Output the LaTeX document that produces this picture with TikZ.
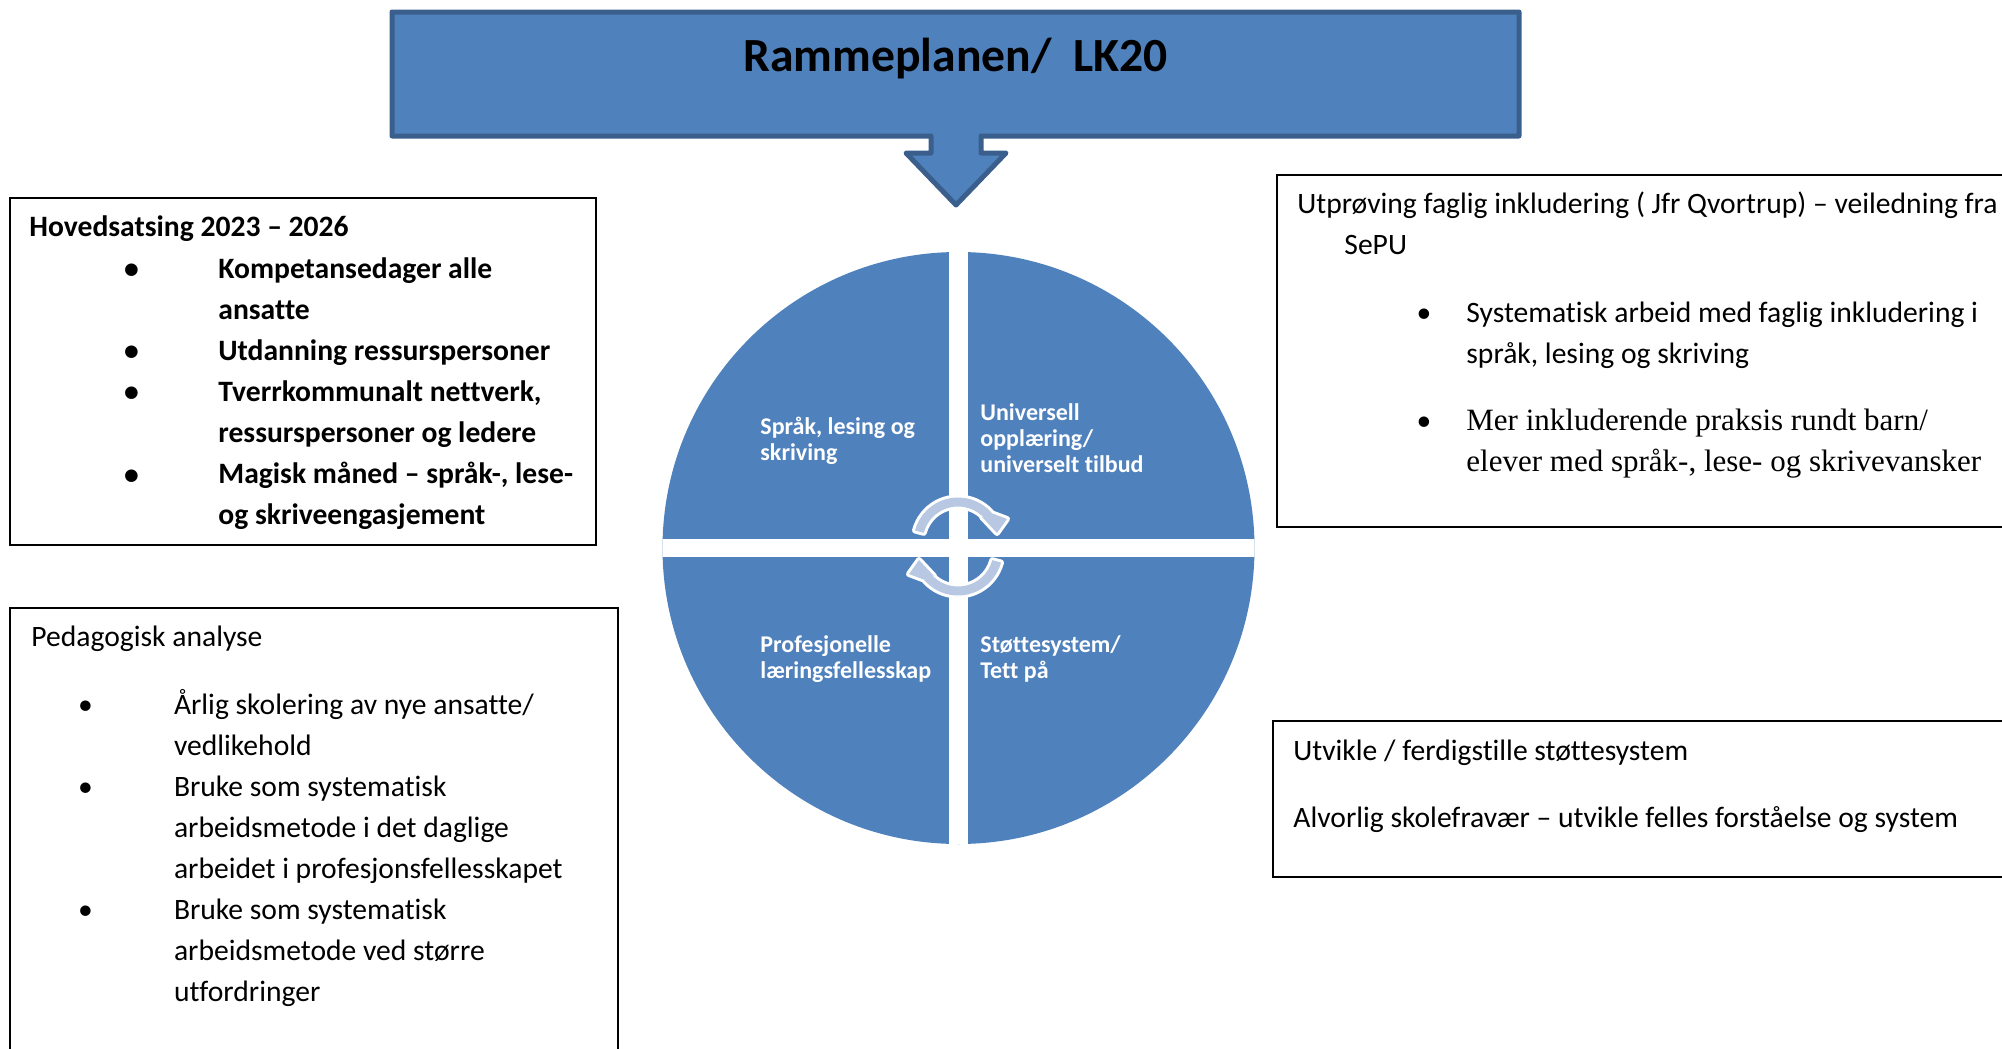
\documentclass[tikz,border=0pt]{standalone}
\usepackage{fontspec}
\setmainfont{Carlito}[Ligatures=NoCommon]
\newfontfamily\cambriafont{Liberation Serif}
\usepackage{tikz}
\usetikzlibrary{calc}
\definecolor{planblue}{HTML}{4F81BD}
\definecolor{planedge}{HTML}{3A5F8C}
\definecolor{cyclelight}{HTML}{B8C8E2}
\tikzset{
  boxtext/.style={anchor=base west, inner sep=0pt, align=left, font=\fontsize{14.8}{20.5}\selectfont},
  boldtext/.style={boxtext, font=\fontsize{14.8}{20.5}\selectfont\bfseries},
  seriftext/.style={boxtext, font=\fontsize{15.5}{20.5}\selectfont\cambriafont},
  bulletmark/.style={anchor=base, inner sep=0pt, font=\fontsize{14.8}{20.5}\selectfont},
  quadtext/.style={anchor=base west, inner sep=0pt, align=left, text=white, font=\fontsize{12}{13}\selectfont\bfseries},
  framebox/.style={draw=black, line width=1pt},
  cyclearrow/.style={fill=cyclelight, preaction={draw=white, line width=3pt, line join=round}}
}
\begin{document}
\begin{tikzpicture}[x=0.5pt, y=-0.5pt]
\useasboundingbox (0,0) rectangle (2002,1049);
\clip (0,0) rectangle (2002,1049);

\draw[planedge, fill=planblue, line width=2.5pt, line join=round]
  (392,12) -- (1519,12) -- (1519,136) -- (981,136) -- (981,153) -- (1006,153)
  -- (956,205) -- (906,153) -- (931,153) -- (931,136) -- (392,136) -- cycle;
\node[anchor=base, inner sep=0pt, font=\fontsize{23.8}{28}\selectfont\bfseries] (plan) at (955.5,71.5) {Rammeplanen/\ \ LK20};

\begin{scope}
\clip (958.5,548) circle[radius=296];
\fill[planblue] (650,240) rectangle (1270,860);
\fill[white] (949,240) rectangle (968,860);
\fill[white] (650,539) rectangle (1270,557);
\end{scope}
\node[quadtext] (sprak) at (760,460) {Språk, lesing og\\skriving};
\node[quadtext] (univ) at (980,472) {Universell\\opplæring/\\universelt tilbud};
\node[quadtext] (prof) at (760,678.8) {Profesjonelle\\læringsfellesskap};
\node[quadtext] (stotte) at (980,678.8) {Støttesystem/\\Tett på};

\begin{scope}[shift={(958,546.5)}]
\foreach \turn in {0,180}
  \fill[cyclearrow, rotate=\turn] (0,-4.5) ++(195:44.5)
    arc[start angle=195, end angle=320, radius=44.5] -- (49,-27.5) -- (39,-13.5) -- (24,-29.5)
    -- ([shift={(0,-4.5)}]320:35.5) arc[start angle=320, end angle=195, radius=35.5] -- cycle;
\end{scope}

\draw[framebox] (10,198) rectangle (596,545);
\node[boldtext] (hoved) at (29,236) {Hovedsatsing 2023 – 2026};
\node[boldtext] (hovedlist) at (218,524) {Kompetansedager alle\\ansatte\\Utdanning ressurspersoner\\Tverrkommunalt nettverk,\\ressurspersoner og ledere\\Magisk måned – språk-, lese-\\og skriveengasjement};
\foreach \y in {278,360,401,484}
  \node[bulletmark, font=\fontsize{14.8}{20.5}\selectfont\bfseries] (hovedbullet\y) at (131.5,\y) {\textbullet};

\draw[framebox] (10,608) rectangle (618,1070);
\node[boxtext] (analyse) at (31,646) {Pedagogisk analyse};
\node[boxtext] (analyselist) at (173.6,1001) {Årlig skolering av nye ansatte/\\vedlikehold\\Bruke som systematisk\\arbeidsmetode i det daglige\\arbeidet i profesjonsfellesskapet\\Bruke som systematisk\\arbeidsmetode ved større\\utfordringer};
\foreach \y in {714,796,919}
  \node[bulletmark] (analysebullet\y) at (85.5,\y) {\textbullet};

\draw[framebox] (1277,175) rectangle (2020,527);
\node[boxtext] (utproving) at (1297,213) {Utprøving faglig inkludering ( Jfr Qvortrup) – veiledning fra};
\node[boxtext] (sepu) at (1344,254) {SePU};
\node[boxtext] (systematisk) at (1466,363) {Systematisk arbeid med faglig inkludering i\\språk, lesing og skriving};
\node[seriftext] (praksis) at (1466,471) {Mer inkluderende praksis rundt barn/\\elever med språk-, lese- og skrivevansker};
\node[bulletmark] (utprovingbullet1) at (1424,322) {\textbullet};
\node[bulletmark] (utprovingbullet2) at (1424,430) {\textbullet};

\draw[framebox] (1273,721) rectangle (2020,877);
\node[boxtext] (utvikle) at (1293,760) {Utvikle / ferdigstille støttesystem};
\node[boxtext] (fravaer) at (1293,827) {Alvorlig skolefravær – utvikle felles forståelse og system};
\end{tikzpicture}
\end{document}
